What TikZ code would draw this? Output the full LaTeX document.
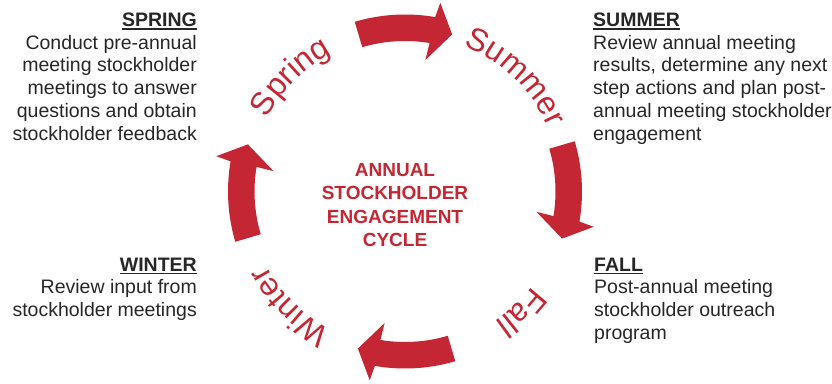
\documentclass[tikz,border=0pt]{standalone}
\usepackage{fontspec}
\setmainfont{Liberation Sans}
\usetikzlibrary{decorations.text}
\definecolor{cyred}{RGB}{196,38,52}
\definecolor{txtgray}{RGB}{38,38,38}
\newcommand{\hdrline}[1]{\setbox0\hbox{\textbf{#1}}\rlap{\rule[-3.2pt]{\wd0}{1.7pt}}\box0}
\newcommand{\seasonfont}{\fontsize{32}{32}\selectfont}
\begin{document}
\begin{tikzpicture}[x=1pt,y=1pt,
  arrowshape/.style={fill=cyred, draw=none},
  sidetext/.style={inner sep=0pt, font=\fontsize{19.5}{22.8}\selectfont, text=txtgray},
  centertext/.style={align=center, inner sep=0pt, font=\fontsize{19}{23.4}\selectfont\bfseries, text=cyred},
  seasonlabel/.style={decorate, decoration={text along path, text align=center, text color=cyred}}
]
\useasboundingbox (0,0) rectangle (832,383);
\coordinate (C) at (405,191.5);

% curved arrows of the cycle
\foreach \r in {0,-90,-180,-270} {
  \fill[arrowshape, shift={(C)}, rotate=\r]
    (106.5:150.5) arc[start angle=106.5, end angle=80.6, radius=150.5]
    -- (81.2:133) -- (73.3:164) -- (79.4:192) -- (80.2:177)
    arc[start angle=80.2, end angle=106.5, radius=177] -- cycle;
}

% season labels along the circle
\path[seasonlabel, decoration={text={|\seasonfont|Spring}}]
  ([shift={(C)}]165:156) arc[start angle=165, end angle=105, radius=156];
\path[seasonlabel, decoration={text={|\seasonfont|Summer}}]
  ([shift={(C)}]76:157) arc[start angle=76, end angle=16, radius=157];
\path[seasonlabel, decoration={text={|\seasonfont|Fall}}]
  ([shift={(C)}]-16:158) arc[start angle=-16, end angle=-76, radius=158];
\path[seasonlabel, decoration={text={|\seasonfont|Winter}}]
  ([shift={(C)}]-105:157) arc[start angle=-105, end angle=-165, radius=157];

% centre title
\node[centertext] (title) at (395,178) {ANNUAL\\STOCKHOLDER\\ENGAGEMENT\\CYCLE};

% side texts
\node[sidetext, align=right, anchor=north east] (spring) at (197,370.5)
  {\hdrline{SPRING}\\Conduct pre-annual\\meeting stockholder\\meetings to answer\\questions and obtain\\stockholder feedback};
\node[sidetext, align=left, anchor=north west] (summer) at (593,370.5)
  {\hdrline{SUMMER}\\Review annual meeting\\results, determine any next\\step actions and plan post-\\annual meeting stockholder\\engagement};
\node[sidetext, align=right, anchor=north east] (winter) at (197,125.5)
  {\hdrline{WINTER}\\Review input from\\stockholder meetings};
\node[sidetext, align=left, anchor=north west] (fall) at (594,125.5)
  {\hdrline{FALL}\\Post-annual meeting\\stockholder outreach\\program};
\end{tikzpicture}
\end{document}
